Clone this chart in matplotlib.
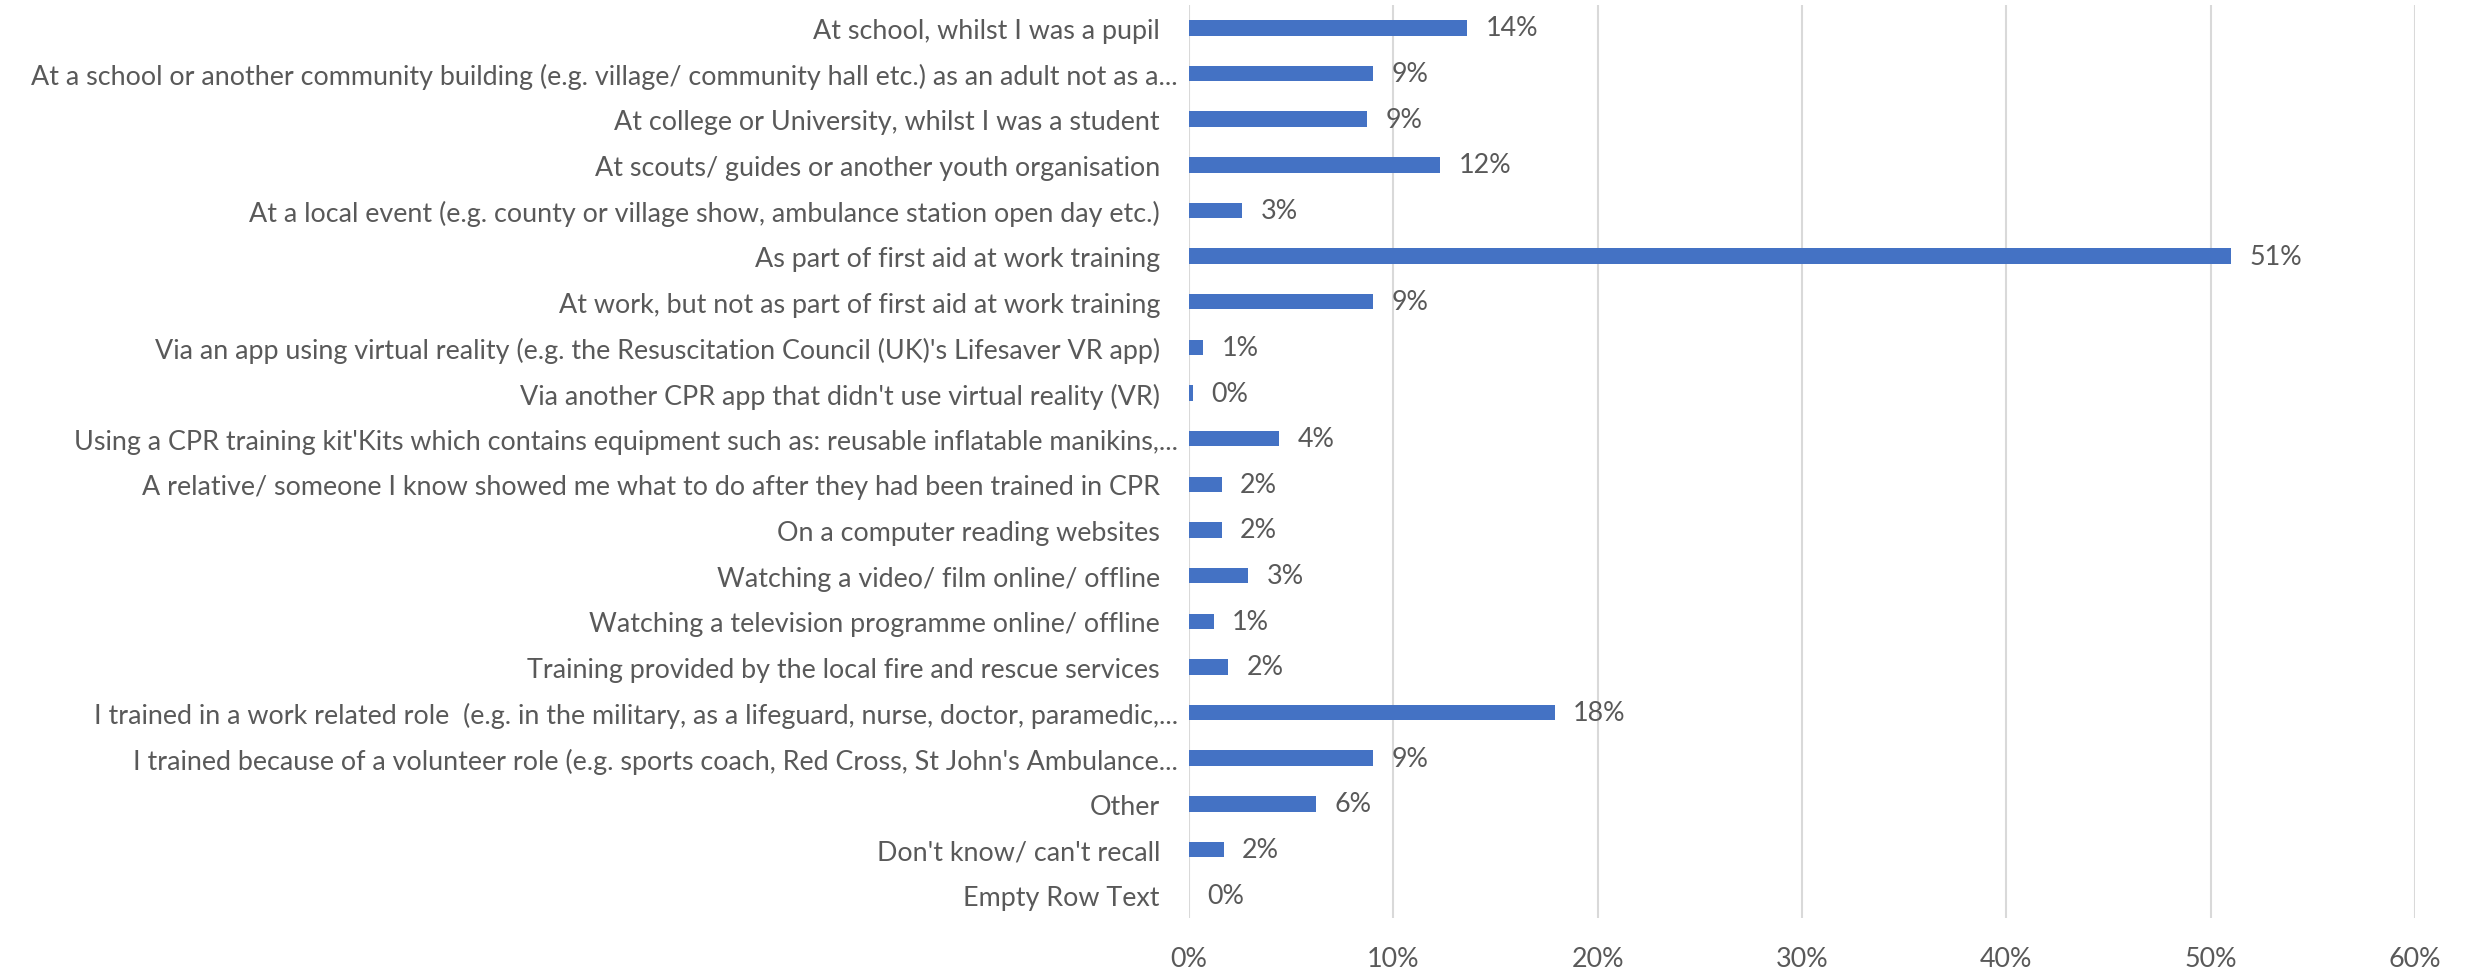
import matplotlib
matplotlib.use("Agg")
import matplotlib.pyplot as plt
from matplotlib.ticker import FuncFormatter
from matplotlib.transforms import ScaledTranslation

plt.rcParams["font.family"] = ["Lato", "DejaVu Sans"]

# categories, top to bottom as in the survey chart
categories = [
    "At school, whilst I was a pupil",
    "At a school or another community building (e.g. village/ community hall etc.) as an adult not as a...",
    "At college or University, whilst I was a student",
    "At scouts/ guides or another youth organisation",
    "At a local event (e.g. county or village show, ambulance station open day etc.)",
    "As part of first aid at work training",
    "At work, but not as part of first aid at work training",
    "Via an app using virtual reality (e.g. the Resuscitation Council (UK)'s Lifesaver VR app)",
    "Via another CPR app that didn't use virtual reality (VR)",
    "Using a CPR training kit'Kits which contains equipment such as: reusable inflatable manikins,...",
    "A relative/ someone I know showed me what to do after they had been trained in CPR",
    "On a computer reading websites",
    "Watching a video/ film online/ offline",
    "Watching a television programme online/ offline",
    "Training provided by the local fire and rescue services",
    "I trained in a work related role  (e.g. in the military, as a lifeguard, nurse, doctor, paramedic,...",
    "I trained because of a volunteer role (e.g. sports coach, Red Cross, St John's Ambulance...",
    "Other",
    "Don't know/ can't recall",
    "Empty Row Text",
]
# share of respondents, %
shares = [13.6, 9.0, 8.7, 12.3, 2.6, 51.0, 9.0, 0.7, 0.2, 4.4,
          1.6, 1.6, 2.9, 1.2, 1.9, 17.9, 9.0, 6.2, 1.7, 0.0]
x_ticks = [0, 10, 20, 30, 40, 50, 60]

BAR = "#4472C4"
TXT = "#595959"
GRID = "#D9D9D9"
FS = 19.4

fig = plt.figure(figsize=(24.66, 9.70), dpi=100)
ax = fig.add_axes([0.4822, 0.0526, 0.4971, 0.9412])

ypos = list(range(len(categories)))
ax.barh(ypos, shares, height=0.34, color=BAR, zorder=3)
for y, v in zip(ypos, shares):
    ax.text(v + 0.9, y, f"{round(v)}%", va="center", ha="left",
            fontsize=FS, color=TXT)

ax.set_ylim(len(categories) - 0.5, -0.5)
ax.set_yticks(ypos)
ax.set_yticklabels(categories, fontsize=FS, color=TXT)
ax.tick_params(axis="y", length=0, pad=21)
# truncated labels sit a little further right, like in the source chart
for lbl in ax.get_yticklabels():
    if lbl.get_text().endswith("..."):
        lbl.set_transform(lbl.get_transform() +
                          ScaledTranslation(0.18, 0, fig.dpi_scale_trans))

ax.set_xlim(0, 60)
ax.set_xticks(x_ticks)
ax.xaxis.set_major_formatter(FuncFormatter(lambda v, _: f"{v:.0f}%"))
ax.tick_params(axis="x", length=0, pad=20, labelsize=FS, labelcolor=TXT)
ax.grid(axis="x", color=GRID, linewidth=1.5, zorder=0)
for s in ax.spines.values():
    s.set_visible(False)

plt.savefig("out.png", dpi=100)
plt.close()
